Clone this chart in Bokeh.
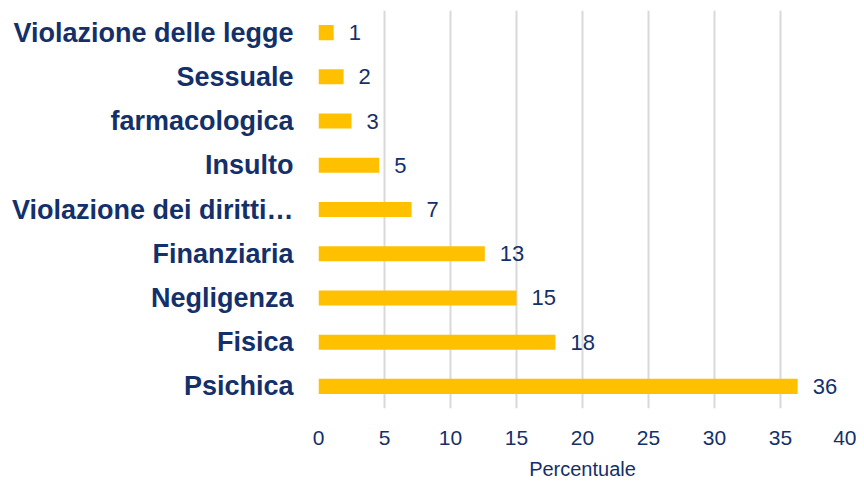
from bokeh.plotting import figure
from bokeh.models import ColumnDataSource, Range1d, FactorRange, FixedTicker
from bokeh.core.properties import value
from bokeh.embed import file_html
from bokeh.resources import INLINE

# Categories (top to bottom as shown)
categories = ["Violazione delle legge", "Sessuale", "farmacologica", "Insulto",
              "Violazione dei diritti\u2026", "Finanziaria", "Negligenza", "Fisica", "Psichica"]
# Bar lengths (percent) as drawn
values = [1.15, 1.9, 2.5, 4.6, 7.05, 12.6, 15.0, 17.95, 36.3]
# Data labels as printed
labels = ["1", "2", "3", "5", "7", "13", "15", "18", "36"]
x_ticks = [0, 5, 10, 15, 20, 25, 30, 35, 40]

NAVY = "#14306A"
BAR = "#FFC000"
FONT = "Liberation Sans"

src = ColumnDataSource(dict(cat=categories, val=values, lab=labels))

p = figure(width=856, height=482, output_backend="svg", toolbar_location=None,
           x_range=Range1d(0, 40), y_range=FactorRange(factors=list(reversed(categories))),
           min_border_left=318, min_border_right=10, min_border_top=10, min_border_bottom=60)
p.outline_line_color = None
p.background_fill_color = "white"

p.hbar(y="cat", right="val", left=0, height=0.34, source=src, color=BAR, line_color=None)
p.text(x="val", y="cat", text="lab", source=src, x_offset=15, text_baseline="middle",
       text_align="left", text_font=value(FONT), text_font_size="22px", text_color=NAVY)

# x axis
p.xaxis.ticker = FixedTicker(ticks=x_ticks)
p.xaxis.axis_line_color = None
p.xaxis.major_tick_line_color = None
p.xaxis.minor_tick_line_color = None
p.xaxis.major_tick_out = 0
p.xaxis.major_tick_in = 0
p.xaxis.major_label_standoff = 22
p.xaxis.major_label_text_font = FONT
p.xaxis.major_label_text_font_size = "21px"
p.xaxis.major_label_text_color = NAVY
p.xaxis.axis_label = "Percentuale"
p.xaxis.axis_label_text_font = FONT
p.xaxis.axis_label_text_font_size = "20px"
p.xaxis.axis_label_text_font_style = "normal"
p.xaxis.axis_label_text_color = NAVY
p.xaxis.axis_label_standoff = 10

# y axis
p.yaxis.axis_line_color = None
p.yaxis.major_tick_line_color = None
p.yaxis.minor_tick_line_color = None
p.yaxis.major_tick_out = 0
p.yaxis.major_tick_in = 0
p.yaxis.major_label_standoff = 25
p.yaxis.major_label_text_font = FONT
p.yaxis.major_label_text_font_size = "27px"
p.yaxis.major_label_text_font_style = "bold"
p.yaxis.major_label_text_color = NAVY

p.xgrid.grid_line_color = "#D9D9D9"
p.xgrid.grid_line_width = 2
p.ygrid.grid_line_color = None

open("out.html", "w").write(file_html(p, INLINE))
